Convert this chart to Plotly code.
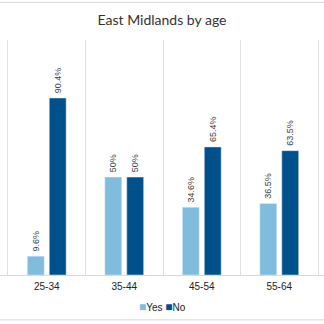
import plotly.graph_objects as go

categories = ["25-34", "35-44", "45-54", "55-64"]
yes_values = [9.6, 50, 34.6, 36.5]
no_values = [90.4, 50, 65.4, 63.5]
series_names = ["Yes", "No"]
colors = ["#80bcdc", "#00508c"]

def labels(vals):
    return [f"\u2009{v:g}%" for v in vals]

fig = go.Figure()
for name, vals, col in zip(series_names, [yes_values, no_values], colors):
    fig.add_trace(go.Bar(
        x=categories, y=vals, name=name, marker_color=col,
        text=labels(vals), textposition="outside", textangle=-90,
        constraintext="none",
        textfont=dict(family="Liberation Sans, Arial", size=9, color="#404040"),
        cliponaxis=False, showlegend=False,
    ))

legend_text = " ".join(
    f"<span style='color:{c};font-size:12px'>■</span><span style='color:#222222'>{n}</span>"
    for n, c in zip(series_names, colors)
)

fig.update_layout(
    width=324, height=324,
    margin=dict(l=0, r=0, t=40, b=49),
    paper_bgcolor="white", plot_bgcolor="white",
    barmode="group", bargap=0.434, bargroupgap=0.23,
    showlegend=False,
    title=dict(text="East Midlands by age", x=0.5, xanchor="center",
               y=1 - 20 / 324, yanchor="middle",
               font=dict(family="Lato, Open Sans", size=14, color="#333333")),
    xaxis=dict(
        type="category", range=[-0.603, 3.577],
        tickson="boundaries", ticks="", showgrid=True, gridcolor="#e0e0e0", gridwidth=1,
        showline=True, linecolor="#d9d9d9", linewidth=1,
        tickfont=dict(family="Liberation Sans, Arial", size=10, color="#222222"),
        ticklabelstandoff=2,
    ),
    yaxis=dict(range=[0, 120], visible=False, showgrid=False, zeroline=False),
    annotations=[
        dict(text=legend_text, xref="paper", yref="paper", x=0.5, y=-0.136,
             xanchor="center", yanchor="middle", showarrow=False,
             font=dict(family="Liberation Sans, Arial", size=10, color="#222222")),
    ],
    shapes=[
        dict(type="line", xref="paper", yref="paper", x0=0, x1=1, y0=1.16, y1=1.16,
             line=dict(color="#d9d9d9", width=1)),
        dict(type="line", xref="paper", yref="paper", x0=0, x1=1, y0=-0.191, y1=-0.191,
             line=dict(color="#d9d9d9", width=1)),
    ],
)

fig.write_html("out.html")
